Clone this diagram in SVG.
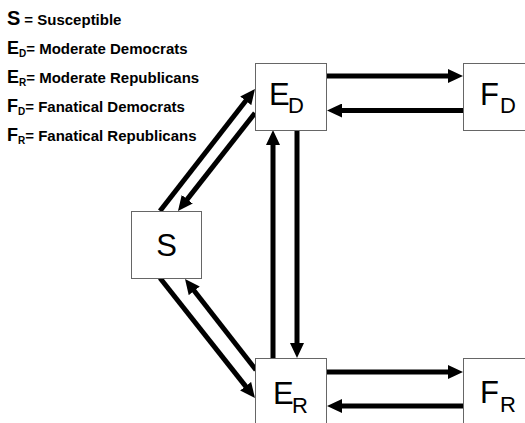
<svg xmlns="http://www.w3.org/2000/svg" width="525" height="423" viewBox="0 0 525 423">
<style>
.box{fill:#fff;stroke:#666;stroke-width:1}
.big{font-family:"Liberation Sans",Arial,sans-serif;font-size:31px;fill:#000}
.sub{font-family:"Liberation Sans",Arial,sans-serif;font-size:22px;fill:#000}
.leg{font-family:"Liberation Sans",Arial,sans-serif;font-weight:bold;font-size:15px;fill:#000}
.legL{font-size:18px}
.legS{font-size:10px}
.arr{stroke:#000;stroke-width:5;fill:none;marker-end:url(#ah)}
</style>
<defs>
<marker id="ah" viewBox="0 0 15 14" markerWidth="15" markerHeight="14" refX="3" refY="7" orient="auto" markerUnits="userSpaceOnUse">
<path d="M0,0 L15,7 L0,14 z" fill="#000"/>
</marker>
</defs>
<rect width="525" height="423" fill="#fff"/>
<g id="legend">
<text class="leg" x="7" y="25"><tspan style="font-size:20px">S</tspan><tspan dx="4">= Susceptible</tspan></text>
<text class="leg" x="7" y="54"><tspan class="legL">E</tspan><tspan class="legS" dy="3">D</tspan><tspan dy="-3">= Moderate Democrats</tspan></text>
<text class="leg" x="7" y="83"><tspan class="legL">E</tspan><tspan class="legS" dy="3">R</tspan><tspan dy="-3">= Moderate Republicans</tspan></text>
<text class="leg" x="7" y="112"><tspan class="legL">F</tspan><tspan class="legS" dy="3">D</tspan><tspan dy="-3">= Fanatical Democrats</tspan></text>
<text class="leg" x="7" y="141"><tspan class="legL">F</tspan><tspan class="legS" dy="3">R</tspan><tspan dy="-3">= Fanatical Republicans</tspan></text>
</g>
<g id="connectors">
<line class="arr" x1="160" y1="211" x2="247.6" y2="98.5"/>
<line class="arr" x1="255" y1="113" x2="185.4" y2="201.6"/>
<line class="arr" x1="160" y1="278" x2="247.5" y2="388.6"/>
<line class="arr" x1="256" y1="370" x2="192.4" y2="288.5"/>
<line class="arr" x1="273" y1="358" x2="273" y2="142"/>
<line class="arr" x1="297" y1="130" x2="297" y2="346"/>
<line class="arr" x1="327" y1="76" x2="451" y2="76"/>
<line class="arr" x1="463" y1="110.5" x2="339" y2="110.5"/>
<line class="arr" x1="327" y1="372" x2="451" y2="372"/>
<line class="arr" x1="463" y1="406" x2="339" y2="406"/>
</g>
<g id="node-S">
<rect class="box" x="131.5" y="211.5" width="70" height="67"/>
<text class="big" x="166.5" y="256" text-anchor="middle">S</text>
</g>
<g id="node-ED">
<rect class="box" x="255.5" y="63.5" width="71" height="67"/>
<text class="big" x="269" y="105">E</text><text class="sub" x="288" y="113">D</text>
</g>
<g id="node-FD">
<rect class="box" x="463.5" y="63.5" width="72" height="67"/>
<text class="big" x="480" y="105">F</text><text class="sub" x="500" y="113">D</text>
</g>
<g id="node-ER">
<rect class="box" x="255.5" y="358.5" width="71" height="70"/>
<text class="big" x="273" y="404">E</text><text class="sub" x="292" y="413">R</text>
</g>
<g id="node-FR">
<rect class="box" x="463.5" y="358.5" width="72" height="70"/>
<text class="big" x="480" y="403">F</text><text class="sub" x="500" y="412">R</text>
</g>
</svg>
